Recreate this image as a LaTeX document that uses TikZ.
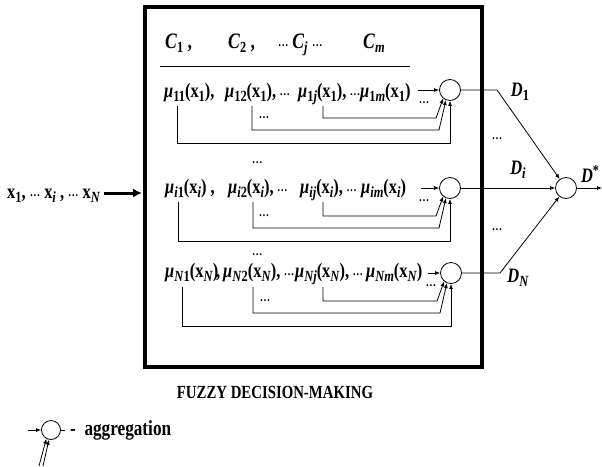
\documentclass[tikz,border=0pt]{standalone}
\usepackage{fontspec}
\setmainfont{Liberation Serif}[FakeStretch=0.8]
\usetikzlibrary{arrows.meta,calc}
\newcommand\dd{{\fontsize{13}{13}\selectfont\raisebox{.3ex}{\textellipsis}}}
\newcommand\mm{\textit{μ}}
\newcommand\lo[1]{\raisebox{-4.5pt}{\fontsize{15.5}{15}\selectfont #1}}
\newcommand\hi[1]{\raisebox{7pt}{\fontsize{15}{15}\selectfont #1}}
\begin{document}
\begin{tikzpicture}[x=1pt,y=-1pt,
  every node/.style={inner sep=0pt,font=\fontsize{20.5}{22}\selectfont\bfseries},
  txt/.style={anchor=base west},
  hdr/.style={anchor=base west,font=\fontsize{22}{24}\selectfont\bfseries},
  agg/.style={circle,draw,line width=0.8pt,minimum size=21pt,inner sep=0pt},
  arr/.style={line width=0.8pt,-{Latex[length=5pt,width=4pt]}},
  ln/.style={line width=0.8pt}]
\useasboundingbox (0,0) rectangle (602,466);
% frame
\node[draw,line width=3.5pt,minimum width=337pt,minimum height=360pt,anchor=north west] (box) at (143,5) {};
% header
\node[hdr] (h1) at (165,48) {\textit{C}\lo{1} ,};
\node[hdr] (h2) at (228,48) {\textit{C}\lo{2} ,};
\node[hdr] (h3) at (278,48) {\dd\,\textit{C}\lo{\textit{j}} \dd};
\node[hdr] (h4) at (363,48) {\textit{C}\lo{\textit{m}}};
\coordinate (hl1) at (160,66); \coordinate (hl2) at (410,66);
\draw[ln] (hl1) -- (hl2);
% circles
\node[agg] (c1) at (450,90) {};
\node[agg] (c2) at (450,188) {};
\node[agg] (c3) at (451,273) {};
\node[agg] (cf) at (566,188) {};
% row 1
\node[txt] (r11) at (164,97) {\mm\lo{11}(x\lo{1}),};
\node[txt] (r12) at (225,97) {\mm\lo{12}(x\lo{1}),\,\dd};
\node[txt] (r13) at (298,97) {\mm\lo{1\textit{j}}(x\lo{1}),\,\dd};
\node[txt] (r14) at (360,97) {\mm\lo{1\textit{m}}(x\lo{1})};
% row 2
\node[txt] (d2) at (252,165) {\dd};
\node[txt] (r21) at (165,193) {\mm\lo{\textit{i}1}(x\lo{\textit{i}}) ,};
\node[txt] (r22) at (228,193) {\mm\lo{\textit{i}2}(x\lo{\textit{i}}),\,\dd};
\node[txt] (r23) at (300,193) {\mm\lo{\textit{ij}}(x\lo{\textit{i}}),\,\dd};
\node[txt] (r24) at (361,193) {\mm\lo{\textit{im}}(x\lo{\textit{i}})};
% row 3
\node[txt] (d3) at (252,257) {\dd};
\node[txt] (r31) at (165,277) {\mm\lo{\textit{N}1}(x\lo{\textit{N}})};
\node[txt] (r31c) at (216,277) {,};
\node[txt] (r32) at (223,277) {\mm\lo{\textit{N}2}(x\lo{\textit{N}}),\,\dd};
\node[txt] (r33) at (295,277) {\mm\lo{\textit{Nj}}(x\lo{\textit{N}}),\,\dd};
\node[txt] (r34) at (366,277) {\mm\lo{\textit{Nm}}(x\lo{\textit{N}})};
% inputs to circles
\foreach \c/\x/\dx in {c1/418/-26,c2/421/-26,c3/428/-20}{
  \coordinate (s\c) at (\x,0 |- \c);
  \draw[arr] (s\c) -- (\c.west);
  \node at ($(\c)+(\dx,13)$) {\dd};
  \node at ($(\c)+(-186,28)$) {\dd};
}
% feedback lines
\foreach \c/\xa/\xb/\xj/\t in {c1/177/252/323/106, c2/178/253/323/202, c3/182/253/323/287}{
  \coordinate (fa\c) at (\xa,\t);
  \coordinate (fb\c) at (\xb,\t);
  \coordinate (fj\c) at (\xj,\t);
  \draw[arr] (fj\c) |- ($(\c)+(-14,28)$) -- (\c.-129);
  \draw[arr] (fb\c) |- ($(\c)+(-11,40)$) -- (\c.-112);
  \draw[arr] (fa\c) |- ($(\c)+(0,53)$) -- (\c.south);
}
% outputs
\coordinate (k1) at (497,90);
\coordinate (k3) at (500,273);
\draw[arr] (c1.east) -- (k1) -- (cf);
\draw[arr] (c2.east) -- (cf.west);
\draw[arr] (c3.east) -- (k3) -- (cf);
\node (D1) at (520,92) {\textit{D}\lo{1}};
\node (Di) at (518,170) {\textit{D}\lo{\textit{i}}};
\node (DN) at (518,278) {\textit{D}\lo{\textit{N}}};
\node (v1) at (497,139) {\dd};
\node (v2) at (497,230) {\dd};
\coordinate (out) at (602,188);
\draw[arr] (cf.east) -- (out);
\node (Ds) at (590,174) {\textit{D}\hi{*}};
% system input
\node[txt] (in) at (7,198) {x\lo{1}, \dd\ x\lo{\textit{i}} , \dd\ x\lo{\textit{N}}};
\coordinate (ia) at (104,193);
\coordinate (ib) at (142,193);
\draw[line width=3pt,-{Latex[length=9pt,width=9pt]}] (ia) -- (ib);
% caption
\node[font=\fontsize{18.5}{20}\selectfont\bfseries] (cap) at (275,392) {FUZZY DECISION-MAKING};
% legend
\node[agg,minimum size=19pt] (lg) at (51,430) {};
\coordinate (la) at (28,430);
\draw[arr] (la) -- (lg.west);
\draw[ln] (lg.east) -- ++(4,0);
\draw[arr] ($(lg)+(-12,36)$) -- (lg.-118);
\draw[arr] ($(lg)+(-8,36)$) -- (lg.-102);
\node[txt,font=\fontsize{21.5}{22}\selectfont\bfseries] (lt) at (70,435) {-\ \ aggregation};
\end{tikzpicture}
\end{document}
